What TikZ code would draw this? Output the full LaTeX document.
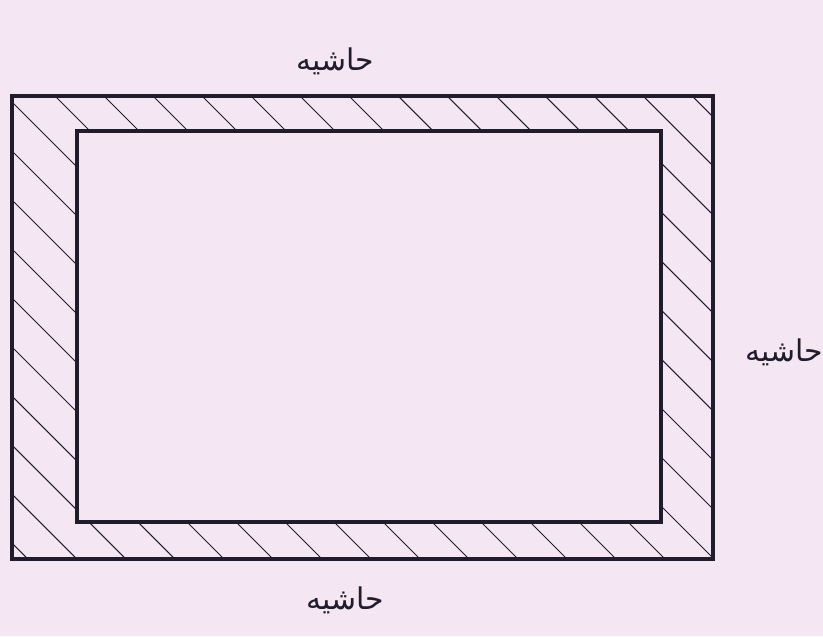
\documentclass[tikz,border=0pt]{standalone}
\usepackage{fontspec}
\newfontfamily\arabicfont[Script=Arabic]{DejaVu Sans}
\TeXXeTstate=1
\usepackage{xcolor}
\definecolor{paper}{HTML}{F4E6F3}
\definecolor{ink}{HTML}{211C2B}
\usepackage{tikz}
\tikzset{
    frame/.style = {draw=ink, line width=2pt},
    hatch/.style = {draw=ink, line width=0.6pt},
    label/.style = {text=ink, font=\arabicfont\fontsize{17}{20}\selectfont, inner sep=0pt},
}

\begin{document}
\begin{tikzpicture}
        % page
        \fill[paper] (0,0) rectangle (16.46,12.72);
        \useasboundingbox (0,0) rectangle (16.46,12.72);
        % corners
        \coordinate (outerSW) at (0.24,1.54);
        \coordinate (outerNE) at (14.26,10.8);
        \coordinate (innerSW) at (1.54,2.28);
        \coordinate (innerNE) at (13.22,10.1);
        % hatched margin
        \begin{scope}[even odd rule]
          \clip (outerSW) rectangle (outerNE) (innerSW) rectangle (innerNE);
          \foreach \c in {2.1,3.08,...,25.2}
            \draw[hatch] (\c-11,11) -- (\c-1,1);
        \end{scope}
        % frames
        \draw[frame] (outerSW) rectangle (outerNE);
        \draw[frame] (innerSW) rectangle (innerNE);
        % labels
        \node[label] (top) at (6.7,11.5) {\beginR حاشیه\endR};
        \node[label] (right) at (15.68,5.68) {\beginR حاشیه\endR};
        \node[label] (bottom) at (6.9,0.72) {\beginR حاشیه\endR};
      \end{tikzpicture}
\end{document}
